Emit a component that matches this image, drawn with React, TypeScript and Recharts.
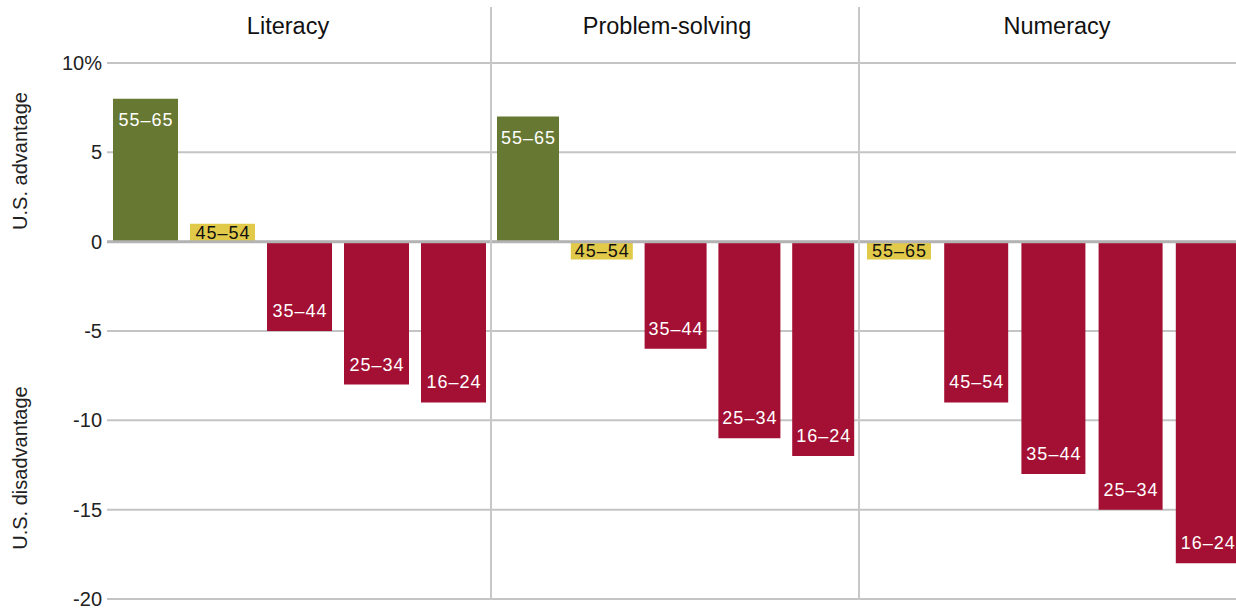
import React from "react";
import { BarChart, Bar, XAxis, YAxis, CartesianGrid, ReferenceLine, Cell, LabelList } from "recharts";

const ageGroupsLiteracy = ["55–65", "45–54", "35–44", "25–34", "16–24"];
const ageGroupsProblem = ["55–65", "45–54", "35–44", "25–34", "16–24"];
const ageGroupsNumeracy = ["55–65", "45–54", "35–44", "25–34", "16–24"];
const literacyValues = [8, 1, -5, -8, -9];
const problemSolvingValues = [7, -1, -6, -11, -12];
const numeracyValues = [-1, -9, -13, -15, -18];
const panelTitles = ["Literacy", "Problem-solving", "Numeracy"];
const yTicks = [10, 5, 0, -5, -10, -15, -20];
const yDomain: [number, number] = [-20, 10];
const yAxisLabels = ["U.S. advantage", "U.S. disadvantage"];

const GREEN = "#667832";
const YELLOW = "#e1c94a";
const RED = "#a31034";
const GRID = "#c4c4c4";
const FONT = "'Liberation Sans', Arial, sans-serif";

const colorFor = (v: number) => (Math.abs(v) <= 1.5 ? YELLOW : v > 0 ? GREEN : RED);

const buildData = (ages: string[], values: number[]) =>
  ages.map((age, i) => ({ age, value: values[i] }));

const makeLabel = (values: number[]) => (props: any) => {
  const { x, y, width, height, index, value } = props;
  const v = values[index];
  const top = Math.min(y, y + height);
  const bottom = Math.max(y, y + height);
  const small = Math.abs(v) <= 1.5;
  let cy: number;
  if (small) cy = (top + bottom) / 2;
  else if (v > 0) cy = top + 21;
  else cy = bottom - 20;
  return (
    <text
      x={x + width / 2 + 0.5}
      y={cy}
      textAnchor="middle"
      dominantBaseline="central"
      fill={small ? "#111" : "#fff"}
      fontSize={18}
      fontFamily={FONT}
      letterSpacing={1}
    >
      {value}
    </text>
  );
};

type PanelProps = {
  ages: string[];
  values: number[];
  left: number;
  width: number;
  barSize: number;
  showAxis: boolean;
  axisWidth: number;
};

const Panel = ({ ages, values, left, width, barSize, showAxis, axisWidth }: PanelProps) => {
  const data = buildData(ages, values);
  return (
    <div style={{ position: "absolute", left, top: 0 }}>
      <BarChart
        width={width}
        height={609}
        data={data}
        margin={{ top: 63, right: 0, bottom: 10, left: 0 }}
      >
        <CartesianGrid horizontal vertical={false} stroke={GRID} strokeWidth={2} />
        <XAxis dataKey="age" hide />
        <YAxis
          domain={yDomain}
          ticks={yTicks}
          hide={!showAxis}
          width={axisWidth}
          axisLine={false}
          tickLine={false}
          tickSize={3}
          tickMargin={2}
          interval={0}
          tick={{ fill: "#222", fontSize: 20, fontFamily: FONT }}
          tickFormatter={(v: number) => (v === 10 ? "10%" : String(v))}
          allowDataOverflow
        />
        <Bar dataKey="value" barSize={barSize} isAnimationActive={false}>
          {data.map((d, i) => (
            <Cell key={i} fill={colorFor(d.value)} />
          ))}
          <LabelList dataKey="age" content={makeLabel(values)} />
        </Bar>
        <ReferenceLine y={0} stroke="#b3b3b3" strokeWidth={3} />
      </BarChart>
    </div>
  );
};

export default function App() {
  const titleCenters = [288, 667, 1057];
  return (
    <div
      style={{
        position: "absolute",
        left: 0,
        top: 0,
        width: 1236,
        height: 609,
        overflow: "hidden",
        background: "#fff",
        fontFamily: FONT,
      }}
    >
      <Panel ages={ageGroupsLiteracy} values={literacyValues} left={0} width={492} barSize={65} showAxis axisWidth={107} />
      <Panel ages={ageGroupsProblem} values={problemSolvingValues} left={491} width={369} barSize={62} showAxis={false} axisWidth={0} />
      <Panel ages={ageGroupsNumeracy} values={numeracyValues} left={860} width={386} barSize={64} showAxis={false} axisWidth={0} />

      {[490, 858].map((x, i) => (
        <div key={i} style={{ position: "absolute", left: x, top: 7, width: 2, height: 593, background: "#c8c8c8" }} />
      ))}

      {panelTitles.map((t, i) => (
        <div
          key={t}
          style={{
            position: "absolute",
            left: titleCenters[i] - 150,
            width: 300,
            top: 26,
            transform: "translateY(-50%)",
            textAlign: "center",
            fontSize: 23.5,
            color: "#111",
            whiteSpace: "nowrap",
          }}
        >
          {t}
        </div>
      ))}

      {yAxisLabels.map((t, i) => (
        <div
          key={t}
          style={{
            position: "absolute",
            left: 20,
            top: i === 0 ? 161 : 468,
            transform: "translate(-50%, -50%) rotate(-90deg)",
            fontSize: 20,
            color: "#222",
            whiteSpace: "nowrap",
          }}
        >
          {t}
        </div>
      ))}
    </div>
  );
}
